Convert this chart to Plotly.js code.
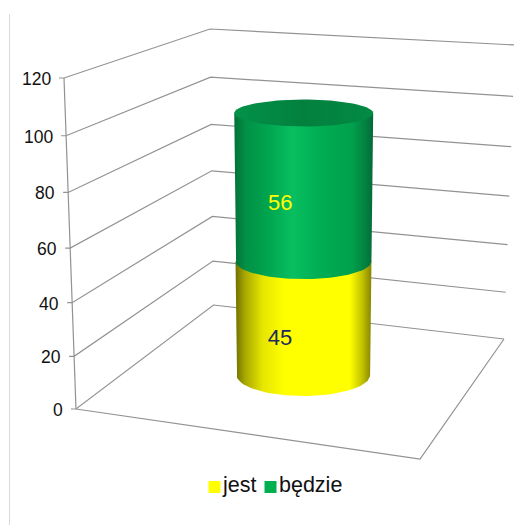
<!DOCTYPE html>
<html>
<head>
<meta charset="utf-8">
<script src="https://cdn.plot.ly/plotly-3.0.1.min.js"></script>
<style>html,body{margin:0;padding:0;background:#fff}#chart{width:514px;height:525px}</style>
</head>
<body>
<div id="chart"></div>
<script>
// ---- chart data ----
const categories = ['jest', 'będzie'];
const seriesValues = [45, 56];
const tickValues = [0, 20, 40, 60, 80, 100, 120];
const tickLabels = ['0', '20', '40', '60', '80', '100', '120'];
const seriesColors = ['#ffff00', '#00b050'];
const labelColors = ['#1f2a5c', '#ffff00'];

// ---- 3D projection of the Excel-style frame (page pixels) ----
const axisMax = 120, persp = -0.00045;
const depth = v => {
  const g = u => u / (1 + persp * u);
  return g(v) / g(axisMax);
};
const lerp = (a, b, t) => a + (b - a) * t;
const frontLeft = { b: [76, 409], t: [64, 78] };
const backLeft = { b: [213.5, 305], t: [210, 29] };
const backRight = { b: [504, 339], t: [515, 45] };
const frontRight = [420, 459];
const at = (c, v) => { const t = depth(v); return [lerp(c.b[0], c.t[0], t), lerp(c.b[1], c.t[1], t)]; };

// cylinder frame: centre and radii as functions of value
const cyl = { cx: [303.3, 303.8], cy: [375, 61], rx: [66.8, 70], ry: [21, 12] };
const cylAt = v => {
  const t = depth(v);
  return {
    cx: lerp(cyl.cx[0], cyl.cx[1], t), cy: lerp(cyl.cy[0], cyl.cy[1], t),
    rx: lerp(cyl.rx[0], cyl.rx[1], t), ry: lerp(cyl.ry[0], cyl.ry[1], t)
  };
};
const arc = (e, from, to, n) => {
  const xs = [], ys = [];
  for (let i = 0; i <= n; i++) {
    const a = lerp(from, to, i / n);
    xs.push(e.cx + e.rx * Math.cos(a)); ys.push(e.cy + e.ry * Math.sin(a));
  }
  return [xs, ys];
};

const gridColor = '#929292';
const traces = [];
const addLine = (x, y, w, c) => traces.push({ type: 'scatter', mode: 'lines', x, y, hoverinfo: 'skip', showlegend: false,
  line: { color: c || gridColor, width: w || 1.2 } });

// chart-area left border
addLine([9.5, 9.5], [14, 525], 1, '#d9d9d9');

// walls, floor, axis, ticks
tickValues.forEach(v => {
  const a = at(frontLeft, v), b = at(backLeft, v), c = at(backRight, v);
  addLine([a[0] - 5, a[0], b[0], c[0]], [a[1], a[1], b[1], c[1]]);
});
const f0 = at(frontLeft, 0), f1 = at(frontLeft, axisMax), br0 = at(backRight, 0);
addLine([f1[0], f0[0]], [f1[1], f0[1]]);
addLine([br0[0], frontRight[0], f0[0]], [br0[1], frontRight[1], f0[1]]);

// cylinder segments
const scales = [
  [[0, '#6f6f00'], [0.07, '#a8a800'], [0.2, '#e6e600'], [0.36, '#ffff00'], [0.84, '#ffff00'], [0.93, '#c4c400'], [1, '#858500']],
  [[0, '#04703a'], [0.08, '#029045'], [0.25, '#00a650'], [0.42, '#08bf60'], [0.62, '#00ad53'], [0.85, '#00a04c'], [0.95, '#037f3f'], [1, '#04693a']]
];
let base = 0;
const segs = seriesValues.map((val, i) => {
  const lo = cylAt(base), hi = cylAt(base + val);
  const [ax, ay] = arc(lo, Math.PI, 0, 48);
  traces.push({
    type: 'scatter', mode: 'lines', name: categories[i], showlegend: false, hoverinfo: 'skip',
    x: [hi.cx - hi.rx, ...ax, hi.cx + hi.rx, hi.cx - hi.rx],
    y: [hi.cy, ...ay, hi.cy, hi.cy],
    line: { width: 0 }, fill: 'toself',
    fillgradient: { type: 'horizontal', colorscale: scales[i] }
  });
  // label sits on the front surface of the segment
  const mid = { x: lo.cx - 23.3, y: lerp(lo.cy, hi.cy, 0.5) + (lo.ry + hi.ry) / 2 + 1.5 };
  base += val;
  return mid;
});
// top cap
const capEllipse = cylAt(base);
const [tx, ty] = arc(capEllipse, 0, 2 * Math.PI, 96);
traces.push({
  type: 'scatter', mode: 'lines', x: tx, y: ty, line: { width: 0 }, fill: 'toself', showlegend: false, hoverinfo: 'skip',
  fillgradient: { type: 'horizontal', colorscale: [[0, '#029248'], [0.5, '#03803e'], [1, '#028a44']] }
});

// data labels
traces.push({
  type: 'scatter', mode: 'text', showlegend: false, hoverinfo: 'skip',
  x: segs.map(s => s.x), y: segs.map(s => s.y),
  text: seriesValues.map(String), textposition: 'middle center', cliponaxis: false,
  textfont: { family: 'Liberation Sans, Arial, sans-serif', size: 22, color: labelColors }
});

// legend
const legendX = [214.5, 270.5], legendY = [487, 487];
traces.push({
  type: 'scatter', mode: 'markers+text', showlegend: false, hoverinfo: 'skip',
  x: legendX, y: legendY, text: categories, textposition: 'middle right', cliponaxis: false,
  marker: { symbol: 'square', size: 12, color: seriesColors },
  textfont: { family: 'Liberation Sans, Arial, sans-serif', size: 21.5, color: '#111111' }
});

// value-axis labels
const annotations = tickValues.map((v, i) => {
  const p = at(frontLeft, v);
  return {
    x: p[0] - 11.5, y: p[1] + 1, xref: 'x', yref: 'y', text: tickLabels[i], showarrow: false,
    xanchor: 'right', yanchor: 'middle',
    font: { family: 'Liberation Sans, Arial, sans-serif', size: 17.5, color: '#111111' }
  };
});

Plotly.newPlot('chart', traces, {
  width: 514, height: 525, autosize: false,
  margin: { l: 0, r: 0, t: 0, b: 0 },
  paper_bgcolor: '#ffffff', plot_bgcolor: '#ffffff', showlegend: false,
  xaxis: { range: [0, 514], visible: false, fixedrange: true },
  yaxis: { range: [525, 0], visible: false, fixedrange: true },
  annotations
}, { staticPlot: true, displayModeBar: false });
</script>
</body>
</html>
